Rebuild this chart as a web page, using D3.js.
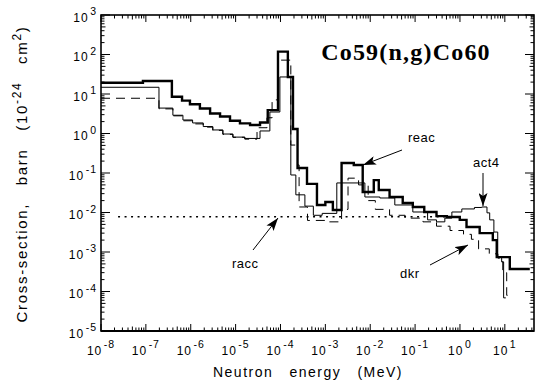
<!DOCTYPE html>
<html><head><meta charset="utf-8">
<script src="https://cdn.jsdelivr.net/npm/d3@7"></script>
<style>
body{margin:0;background:#fff}
svg{display:block}
text{font-family:"Liberation Sans",Arial,sans-serif;fill:#000}
</style>
</head><body>
<svg id="c" width="545" height="388"></svg>
<script>
// ---- data (energies in MeV = step start edges; last energy = end of last step) ----
const reacE = [1e-8, 8.6e-8, 3.8e-7, 6.4e-7, 9.6e-7, 1.6e-6, 2.7e-6, 4.5e-6, 7.5e-6, 1.25e-5, 2.1e-5, 3.5e-5, 5.2e-5, 8.8e-5, 1.46e-4, 1.9e-4, 2.4e-4, 3.9e-4, 6.5e-4, 1.0e-3, 1.47e-3, 2.3e-3, 4.3e-3, 6.8e-3, 1.2e-2, 1.55e-2, 2.7e-2, 5.3e-2, 8.9e-2, 0.16, 0.30, 0.51, 0.99, 1.4, 2.75, 5.4, 6.6, 12.9, 36];
const reacV = [19.3, 21.3, 8.5, 6.8, 5.5, 4.3, 3.2, 2.7, 2.1, 1.8, 1.64, 1.9, 3.9, 118, 27, 1.3, 0.134, 0.053, 0.0155, 0.0185, 0.0116, 0.179, 0.16, 0.033, 0.066, 0.037, 0.0247, 0.0174, 0.0138, 0.0103, 0.0081, 0.0077, 0.0065, 0.0043, 0.003, 0.002, 7.4e-4, 3.7e-4];

const act4E = [1e-8, 1.96e-7, 4.0e-7, 6.7e-7, 1.1e-6, 1.9e-6, 3.1e-6, 5.2e-6, 8.7e-6, 1.6e-5, 3.5e-5, 5.8e-5, 9.7e-5, 1.7e-4, 2.2e-4, 3.5e-4, 5.4e-4, 8.5e-4, 1.8e-3, 7.6e-3, 0.0164, 0.0353, 0.089, 0.19, 0.30, 0.46, 0.66, 1.1, 2.1, 3.06, 4.0, 4.6, 5.7, 6.95, 8.5, 9.4, 10.5];
const act4V = [14.8, 4.4, 2.9, 2.2, 1.85, 1.5, 1.23, 0.97, 0.81, 0.75, 1.16, 3.5, 27, 0.089, 0.028, 0.0145, 0.0085, 0.0095, 0.056, 0.0247, 0.0233, 0.0155, 0.0103, 0.0065, 0.0058, 0.0072, 0.0103, 0.0123, 0.0134, 0.0138, 0.0098, 0.0065, 0.0032, 7.5e-4, 5.6e-4, 6.9e-5];

const dkrE = [1e-8, 1.96e-7, 4.0e-7, 6.7e-7, 1.1e-6, 1.9e-6, 3.1e-6, 5.2e-6, 8.7e-6, 1.6e-5, 3.0e-5, 5.0e-5, 6.5e-5, 8.8e-5, 1.7e-4, 2.4e-4, 2.6e-4, 4.0e-4, 1.0e-3, 2.3e-3, 3.2e-3, 5.5e-3, 9e-3, 1.3e-2, 2.7e-2, 6e-2, 0.15, 0.3, 0.6, 1.2, 1.8, 2.6, 4.5, 7, 9, 11, 12.5];
const dkrV = [7.8, 4.2, 2.8, 2.1, 1.75, 1.45, 1.2, 0.95, 0.8, 0.72, 1.4, 2.5, 7.1, 72, 0.51, 0.16, 0.0138, 0.0063, 0.0058, 0.012, 0.074, 0.05, 0.02, 0.012, 0.0085, 0.0072, 0.0058, 0.0045, 0.0035, 0.0028, 0.0021, 0.0012, 0.0009, 0.0007, 0.0003, 8e-5];

const raccE = [2.4e-8, 1.0];
const raccV = [0.0078];

const xDecades = [-8, -7, -6, -5, -4, -3, -2, -1, 0, 1];
const yDecades = [-5, -4, -3, -2, -1, 0, 1, 2, 3];

// ---- layout ----
const m = {l: 101, r: 534, t: 15, b: 331};
const x = d3.scaleLog().domain([1e-8, Math.pow(10, 1.65)]).range([m.l, m.r]);
const y = d3.scaleLog().domain([1e-5, 1e3]).range([m.b, m.t]);
const svg = d3.select('#c');

function logTicks(scale) {
  const [a, b] = scale.domain();
  const out = [];
  for (let d = Math.floor(Math.log10(a)); d <= Math.ceil(Math.log10(b)); d++) {
    for (let k = 1; k <= 9; k++) {
      const v = k * Math.pow(10, d);
      if (v >= a * 0.9999 && v <= b * 1.0001) out.push({v, k});
    }
  }
  return out;
}
const tl = k => k === 1 ? 7 : (k === 5 ? 4.5 : 3.5);
const g = svg.append('g').attr('stroke', '#000').attr('stroke-width', 1);
logTicks(x).forEach(t => {
  const px = x(t.v);
  g.append('line').attr('x1', px).attr('x2', px).attr('y1', m.b).attr('y2', m.b - tl(t.k));
  g.append('line').attr('x1', px).attr('x2', px).attr('y1', m.t).attr('y2', m.t + tl(t.k));
});
logTicks(y).forEach(t => {
  const py = y(t.v);
  g.append('line').attr('y1', py).attr('y2', py).attr('x1', m.l).attr('x2', m.l + tl(t.k) + (t.k===1?2:0));
  g.append('line').attr('y1', py).attr('y2', py).attr('x1', m.r).attr('x2', m.r - tl(t.k) - (t.k===1?2:0));
});
svg.append('rect').attr('x', m.l).attr('y', m.t).attr('width', m.r - m.l).attr('height', m.b - m.t)
  .attr('fill', 'none').attr('stroke', '#000').attr('stroke-width', 1.6);
svg.append('line').attr('x1', m.l).attr('x2', m.r).attr('y1', m.b).attr('y2', m.b)
  .attr('stroke', '#000').attr('stroke-width', 2);

// tick labels
xDecades.forEach(d => {
  const t = svg.append('text').attr('x', x(Math.pow(10, d))).attr('y', 354.5)
    .attr('text-anchor', 'middle').attr('font-size', 12).attr('letter-spacing', 1);
  t.append('tspan').text('10');
  t.append('tspan').attr('dy', -6.5).attr('font-size', 10.5).attr('dx', 1.5).text(String(d));
});
yDecades.forEach(d => {
  const t = svg.append('text').attr('x', 97).attr('y', y(Math.pow(10, d)) + 6.5)
    .attr('text-anchor', 'end').attr('font-size', 12).attr('letter-spacing', 1);
  t.append('tspan').text('10');
  t.append('tspan').attr('dy', -6.5).attr('font-size', 10.5).attr('dx', 1.5).text(String(d));
});

// axis titles
svg.append('text').attr('x', 308).attr('y', 377).attr('text-anchor', 'middle')
  .attr('font-size', 14).attr('letter-spacing', 1.5).style('white-space', 'pre')
  .text('Neutron   energy   (MeV)');
const yl = svg.append('text').attr('transform', 'translate(27,174) rotate(-90)').attr('text-anchor', 'middle')
  .attr('font-size', 15).attr('letter-spacing', 1.7).style('white-space', 'pre');
yl.append('tspan').text('Cross-section,   barn   (10');
yl.append('tspan').attr('dy', -6).attr('font-size', 12).text('-24');
yl.append('tspan').attr('dy', 6).text('   cm');
yl.append('tspan').attr('dy', -6).attr('font-size', 12).text('2');
yl.append('tspan').attr('dy', 6).text(')');

// title
svg.append('text').attr('x', 406).attr('y', 60).attr('text-anchor', 'middle')
  .style('font-family', '"Liberation Serif","Times New Roman",serif')
  .attr('font-weight', 'bold').attr('font-size', 24).attr('letter-spacing', 1.2).text('Co59(n,g)Co60');

// series
function stepPts(E, V) {
  const pts = V.map((v, i) => [E[i], v]);
  pts.push([E[E.length - 1], V[V.length - 1]]);
  return pts;
}
const line = d3.line().x(d => x(d[0])).y(d => y(d[1])).curve(d3.curveStepAfter);
const plot = svg.append('g').attr('fill', 'none').attr('stroke', '#000').attr('stroke-linejoin', 'miter');
plot.append('path').attr('d', line(stepPts(raccE, raccV))).attr('stroke-width', 1.3).attr('stroke-dasharray', '2,4.5');
plot.append('path').attr('d', line(stepPts(dkrE, dkrV))).attr('stroke-width', 1).attr('stroke-dasharray', '9,6');
plot.append('path').attr('d', line(stepPts(act4E, act4V))).attr('stroke-width', 1);
plot.append('path').attr('d', line(stepPts(reacE, reacV))).attr('stroke-width', 2.4);

// annotations
const defs = svg.append('defs');
defs.append('marker').attr('id', 'ah').attr('markerUnits', 'userSpaceOnUse')
  .attr('markerWidth', 13).attr('markerHeight', 9).attr('refX', 13).attr('refY', 4.5).attr('orient', 'auto')
  .append('path').attr('d', 'M0,0 L13,4.5 L0,9 L3,4.5 Z').attr('fill', '#000');
const notes = [
  {t: 'reac', tx: 408, ty: 142, x1: 402, y1: 150, x2: 363, y2: 165},
  {t: 'act4', tx: 473, ty: 167, x1: 483, y1: 173, x2: 483, y2: 206},
  {t: 'dkr', tx: 400, ty: 278, x1: 430, y1: 265, x2: 468, y2: 245},
  {t: 'racc', tx: 232, ty: 268, x1: 253, y1: 250, x2: 278, y2: 218}
];
notes.forEach(n => {
  svg.append('line').attr('x1', n.x1).attr('y1', n.y1).attr('x2', n.x2).attr('y2', n.y2)
    .attr('stroke', '#000').attr('stroke-width', 1).attr('marker-end', 'url(#ah)');
  svg.append('text').attr('x', n.tx).attr('y', n.ty).attr('font-size', 13).attr('letter-spacing', 0.5).text(n.t);
});
</script>
</body></html>
